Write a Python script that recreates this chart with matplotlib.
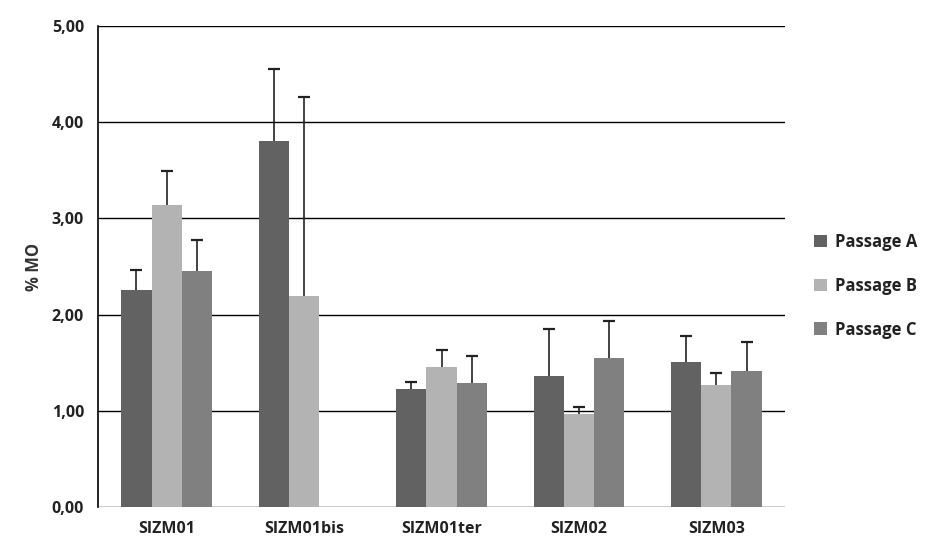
import matplotlib
matplotlib.use("Agg")
import matplotlib.pyplot as plt
import numpy as np

sites = ["SIZM01", "SIZM01bis", "SIZM01ter", "SIZM02", "SIZM03"]
passages = ["Passage A", "Passage B", "Passage C"]
vals_a = [2.26, 3.80, 1.23, 1.36, 1.51]
vals_b = [3.14, 2.19, 1.46, 0.97, 1.27]
vals_c = [2.45, np.nan, 1.29, 1.55, 1.41]
err_a = [0.20, 0.75, 0.07, 0.49, 0.27]
err_b = [0.35, 2.07, 0.17, 0.07, 0.12]
err_c = [0.33, np.nan, 0.28, 0.38, 0.31]
colors = ["#626262", "#b3b3b3", "#808080"]

plt.rcParams['font.family'] = ['Open Sans', 'DejaVu Sans']

fig = plt.figure(figsize=(9.28, 5.51), dpi=100)
ax = fig.add_axes([98/928, 1-507/551, (785-98)/928, (507-26)/551])

x = np.arange(len(sites))
w = 0.22
series = [(vals_a, err_a), (vals_b, err_b), (vals_c, err_c)]
for i, (v, e) in enumerate(series):
    pos = x + (i - 1) * w
    v = np.array(v, dtype=float)
    e = np.array(e, dtype=float)
    ax.bar(pos, v, width=w, color=colors[i], label=passages[i], zorder=2)
    ok = ~np.isnan(v)
    # upper error bar only, cap on top
    ax.vlines(pos[ok], v[ok], v[ok] + e[ok], color='#222222', linewidth=1.2, zorder=3)
    ax.plot(pos[ok], v[ok] + e[ok], linestyle='none', marker='_', markersize=9,
            markeredgewidth=1.6, color='#222222', zorder=3)

ax.set_xlim(-0.5, 4.5)
ax.set_ylim(0, 5)
ax.set_yticks(np.arange(0, 6, 1))
ax.set_yticklabels([f"{t:.2f}".replace('.', ',') for t in range(6)])
ax.yaxis.grid(True, color='black', linewidth=1.0, zorder=1)
ax.set_axisbelow(True)
ax.set_xticks(x)
ax.set_xticklabels(sites)
for s in ['top', 'right', 'bottom']:
    ax.spines[s].set_visible(False)
ax.spines['left'].set_linewidth(1.2)
ax.tick_params(length=0, pad=10, labelsize=11.5, colors='#222222')
for lab in ax.get_xticklabels() + ax.get_yticklabels():
    lab.set_fontweight('bold')
ax.set_ylabel("% MO", fontsize=12, fontweight='bold', color='#333333', labelpad=6)

ax.legend(loc='center left', bbox_to_anchor=(1.02, 0.46), frameon=False,
          prop={'weight': 'bold', 'size': 12}, handlelength=0.8, handleheight=0.8,
          labelspacing=1.55, handletextpad=0.5, labelcolor='#222222')

fig.savefig("out.png", dpi=100)
